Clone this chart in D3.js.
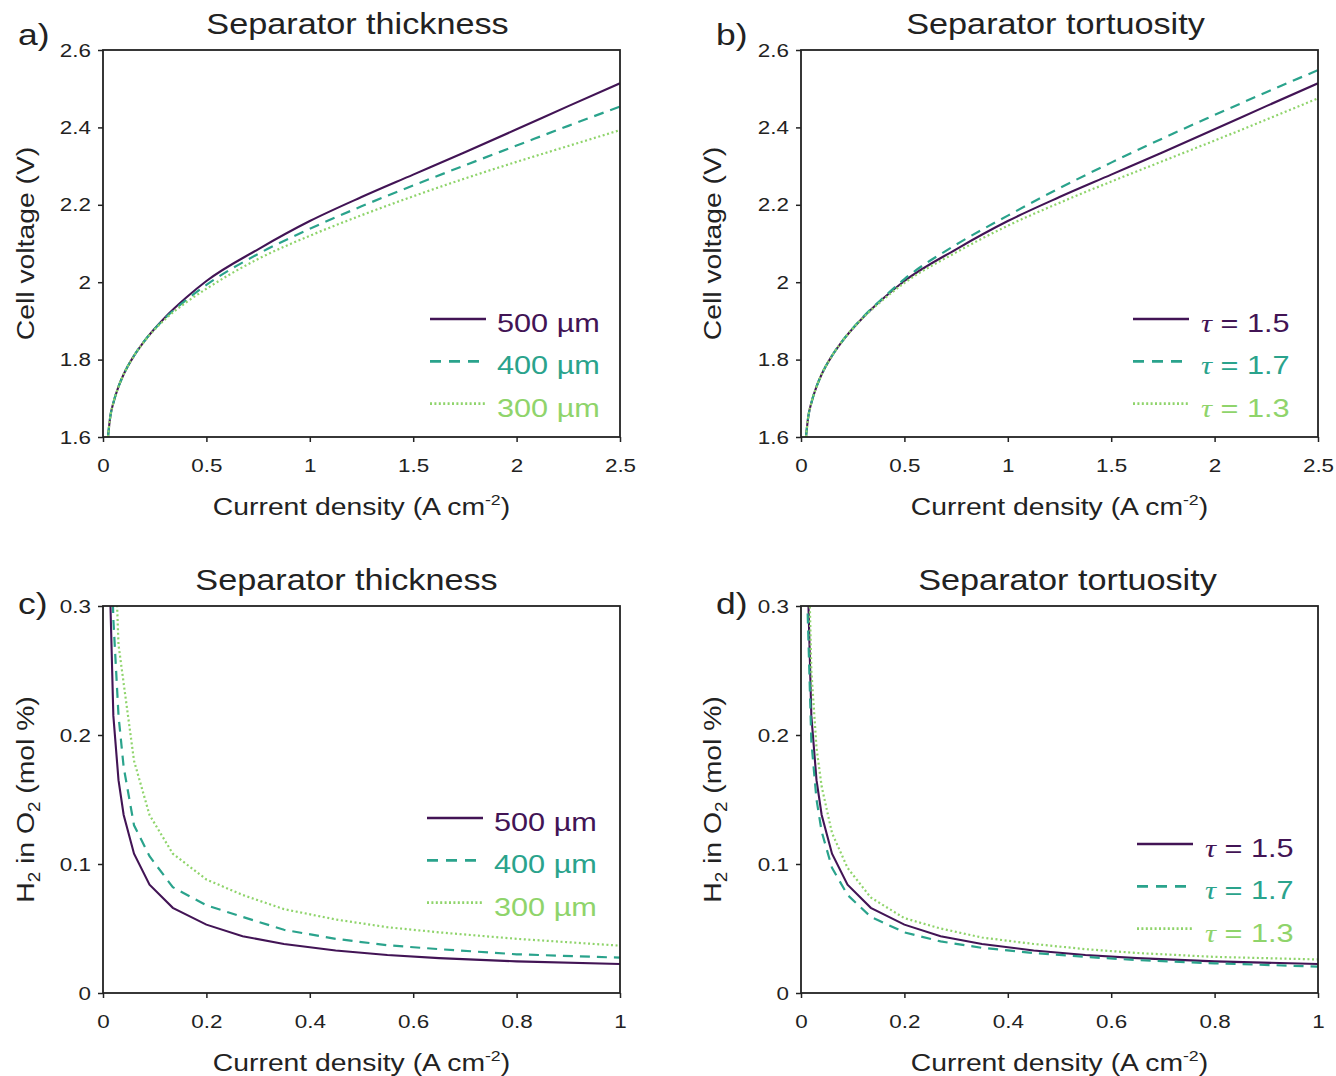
<!DOCTYPE html>
<html>
<head>
<meta charset="utf-8">
<script src="https://cdn.jsdelivr.net/npm/d3@7"></script>
<style>
  body { margin: 0; background: #fff; }
  svg text { font-family: "Liberation Sans", Arial, sans-serif; fill: #222; }
  .tick text { font-size: 19px; }
  .tick line { stroke: #222; }
</style>
</head>
<body>
<div id="chart"></div>
<script>
// ---- data ----
// cell voltage panels (a, b)
var vX     = [0.024, 0.035, 0.05, 0.075, 0.1, 0.15, 0.2, 0.3, 0.4, 0.5, 0.75, 1.0, 1.25, 1.5, 1.75, 2.0, 2.25, 2.5];
var v500   = [1.6, 1.652, 1.688, 1.730, 1.762, 1.810, 1.848, 1.909, 1.959, 2.003, 2.085, 2.158, 2.22, 2.278, 2.336, 2.395, 2.455, 2.514];
var v400   = [1.6, 1.652, 1.688, 1.730, 1.762, 1.810, 1.848, 1.907, 1.953, 1.993, 2.073, 2.138, 2.196, 2.25, 2.302, 2.353, 2.404, 2.454];
var v300   = [1.6, 1.652, 1.688, 1.730, 1.762, 1.810, 1.847, 1.904, 1.947, 1.983, 2.06, 2.12, 2.173, 2.222, 2.268, 2.311, 2.352, 2.393];
var vTau15 = v500;
var vTau17 = [1.6, 1.652, 1.688, 1.730, 1.762, 1.810, 1.848, 1.910, 1.961, 2.008, 2.097, 2.172, 2.243, 2.309, 2.372, 2.432, 2.491, 2.548];
var vTau13 = [1.6, 1.652, 1.688, 1.730, 1.762, 1.810, 1.848, 1.908, 1.956, 1.998, 2.077, 2.146, 2.205, 2.26, 2.313, 2.366, 2.42, 2.475];

// H2 in O2 panels (c, d)
var hX     = [0.01, 0.0125, 0.02, 0.03, 0.04, 0.06, 0.09, 0.135, 0.2, 0.27, 0.35, 0.45, 0.55, 0.65, 0.8, 1.0];
var h500   = [0.40, 0.33, 0.215, 0.165, 0.138, 0.108, 0.084, 0.066, 0.053, 0.044, 0.038, 0.033, 0.0295, 0.027, 0.0245, 0.0225];
var h400   = [0.50, 0.40, 0.29, 0.215, 0.175, 0.13, 0.106, 0.082, 0.068, 0.059, 0.049, 0.042, 0.037, 0.034, 0.030, 0.0274];
var h300   = [0.65, 0.55, 0.38, 0.27, 0.24, 0.18, 0.138, 0.108, 0.088, 0.076, 0.065, 0.057, 0.051, 0.047, 0.042, 0.0367];
var hTau15 = h500;
var hTau17 = [0.36, 0.30, 0.195, 0.15, 0.125, 0.097, 0.076, 0.059, 0.047, 0.040, 0.035, 0.031, 0.028, 0.0255, 0.023, 0.0205];
var hTau13 = [0.46, 0.38, 0.25, 0.19, 0.16, 0.124, 0.097, 0.074, 0.058, 0.050, 0.043, 0.038, 0.034, 0.031, 0.028, 0.026];

var thickLabels = ["500 µm", "400 µm", "300 µm"];
var tauValues   = ["1.5", "1.7", "1.3"];

var colors = ["#421455", "#2aa38c", "#8fd46b"];
var dashes = [null, "10,7", "2,2.6"];

var voltTicks  = [1.6, 1.8, 2, 2.2, 2.4, 2.6];
var voltXTicks = [0, 0.5, 1, 1.5, 2, 2.5];
var h2Ticks    = [0, 0.1, 0.2, 0.3];
var h2XTicks   = [0, 0.2, 0.4, 0.6, 0.8, 1];

// the text in the figure is a bit wider than plain Liberation Sans
var SX = 1.18;

var svg = d3.select("#chart").append("svg")
    .attr("width", 1336)
    .attr("height", 1076);

var panels = [
    {id: "a", left: 103, top: 50, xDom: [0, 2.5], yDom: [1.6, 2.6], xTicks: voltXTicks, yTicks: voltTicks,
     title: "Separator thickness", titleDx: -4, ylab: "volt", ylabX: -69, x: vX, series: [v500, v400, v300],
     leg: "thick", legX: 430, legY: 319},
    {id: "b", left: 801, top: 50, xDom: [0, 2.5], yDom: [1.6, 2.6], xTicks: voltXTicks, yTicks: voltTicks,
     title: "Separator tortuosity", titleDx: -4, ylab: "volt", ylabX: -80, x: vX, series: [vTau15, vTau17, vTau13],
     leg: "tau", legX: 1133, legY: 319},
    {id: "c", left: 103, top: 606, xDom: [0, 1], yDom: [0, 0.3], xTicks: h2XTicks, yTicks: h2Ticks,
     title: "Separator thickness", titleDx: -15, ylab: "h2", ylabX: -69, x: hX, series: [h500, h400, h300],
     leg: "thick", legX: 427, legY: 818},
    {id: "d", left: 801, top: 606, xDom: [0, 1], yDom: [0, 0.3], xTicks: h2XTicks, yTicks: h2Ticks,
     title: "Separator tortuosity", titleDx: 8, ylab: "h2", ylabX: -80, x: hX, series: [hTau15, hTau17, hTau13],
     leg: "tau", legX: 1137, legY: 844}
];

var W = 517, H = 387;

function wideText(parent, x, y, size, rotate) {
    return parent.append("text")
        .attr("transform", "translate(" + x + "," + y + ")" + (rotate ? " rotate(-90)" : "") + " scale(" + SX + ",1)")
        .style("font-size", size + "px");
}

panels.forEach(function(p) {
    var g = svg.append("g").attr("transform", "translate(" + p.left + "," + p.top + ")");

    var x = d3.scaleLinear().domain(p.xDom).range([0, W]);
    var y = d3.scaleLinear().domain(p.yDom).range([H, 0]);

    g.append("clipPath").attr("id", "clip-" + p.id)
        .append("rect").attr("width", W).attr("height", H);

    // curves
    var line = d3.line()
        .x(function(d) { return x(d[0]); })
        .y(function(d) { return y(d[1]); })
        .curve(p.ylab === "volt" ? d3.curveMonotoneX : d3.curveLinear);

    p.series.forEach(function(s, i) {
        var pts = p.x.map(function(v, j) { return [v, s[j]]; });
        g.append("path")
            .attr("clip-path", "url(#clip-" + p.id + ")")
            .attr("d", line(pts))
            .attr("fill", "none")
            .attr("stroke", colors[i])
            .attr("stroke-width", i === 0 ? 2.1 : 2.2)
            .attr("stroke-dasharray", dashes[i]);
    });

    // axes
    var fmt = d3.format("~g");
    g.append("g").attr("transform", "translate(0," + H + ")")
        .call(d3.axisBottom(x).tickValues(p.xTicks).tickFormat(fmt).tickSize(5).tickPadding(17))
        .call(function(a) {
            a.select(".domain").remove();
            a.selectAll(".tick text").attr("transform", "scale(" + SX + ",1)");
        });
    g.append("g")
        .call(d3.axisLeft(y).tickValues(p.yTicks).tickFormat(fmt).tickSize(5))
        .call(function(a) {
            a.select(".domain").remove();
            a.selectAll(".tick text").attr("x", -12 / SX).attr("transform", "scale(" + SX + ",1)");
        });

    g.selectAll(".tick line").attr("stroke-width", 1.5);

    // frame
    g.append("rect")
        .attr("width", W).attr("height", H)
        .attr("fill", "none").attr("stroke", "#222").attr("stroke-width", 1.8);

    // title + panel label
    wideText(g, W / 2 + p.titleDx, -16, 29, false)
        .attr("text-anchor", "middle")
        .text(p.title);
    wideText(g, -85, p.ylab === "volt" ? -5 : 8, 30, false)
        .text(p.id + ")");

    // x label
    var xl = wideText(g, W / 2, H + 78, 24, false)
        .attr("text-anchor", "middle");
    xl.append("tspan").text("Current density (A cm");
    xl.append("tspan").attr("dy", -10).style("font-size", "15px").text("-2");
    xl.append("tspan").attr("dy", 10).text(")");

    // y label
    var yl = wideText(g, p.ylabX, H / 2, 24, true)
        .attr("text-anchor", "middle");
    if (p.ylab === "volt") {
        yl.text("Cell voltage (V)");
    } else {
        yl.append("tspan").text("H");
        yl.append("tspan").attr("dy", 6).style("font-size", "16px").text("2");
        yl.append("tspan").attr("dy", -6).text(" in O");
        yl.append("tspan").attr("dy", 6).style("font-size", "16px").text("2");
        yl.append("tspan").attr("dy", -6).text(" (mol %)");
    }

    // legend
    var lg = svg.append("g").attr("transform", "translate(" + p.legX + "," + p.legY + ")");
    colors.forEach(function(c, i) {
        var row = lg.append("g").attr("transform", "translate(0," + (i * 42.3) + ")");
        row.append("line")
            .attr("x1", 0).attr("x2", 56)
            .attr("stroke", c).attr("stroke-width", i === 0 ? 2.6 : 2.8)
            .attr("stroke-dasharray", i === 1 ? "11,8" : (i === 2 ? "2,2.4" : null));
        var t = wideText(row, p.leg === "thick" ? 67 : 68, 13, 26, false)
            .style("fill", c);
        if (p.leg === "thick") {
            t.text(thickLabels[i]);
        } else {
            t.append("tspan").style("font-family", "'Liberation Serif', serif").style("font-style", "italic").text("τ");
            t.append("tspan").text(" = " + tauValues[i]);
        }
    });
});
</script>
</body>
</html>
